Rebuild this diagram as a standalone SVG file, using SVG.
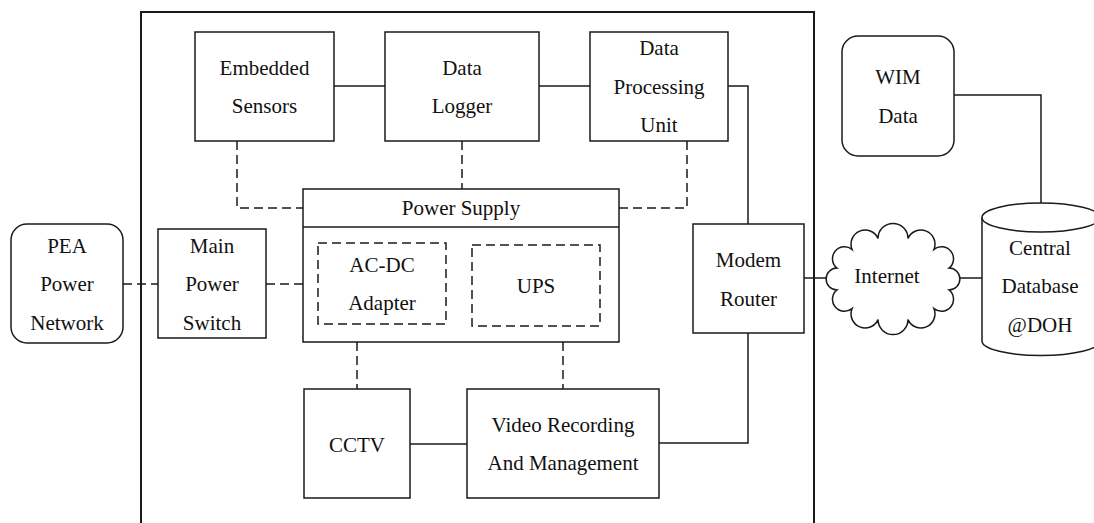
<svg xmlns="http://www.w3.org/2000/svg" width="1094" height="523" viewBox="0 0 1094 523">
<style>
.box{fill:#fff;stroke:#1a1a1a;stroke-width:1.5}
.dbox{fill:none;stroke:#1a1a1a;stroke-width:1.5;stroke-dasharray:9 5}
.ln{fill:none;stroke:#1a1a1a;stroke-width:1.5}
.dl{fill:none;stroke:#1a1a1a;stroke-width:1.5;stroke-dasharray:9 5}
text{font-family:"Liberation Serif","Times New Roman",serif;font-size:21px;fill:#111;text-anchor:middle}
</style>
<rect width="1094" height="523" fill="#fff"/>
<path id="enclosure" d="M141,523 V12 H814 V523" fill="none" stroke="#1a1a1a" stroke-width="2"/>
<g id="connectors">
<path class="dl" d="M237,141 V208 H303"/>
<path class="dl" d="M462,141 V189"/>
<path class="dl" d="M687,141 V208 H619"/>
<path class="dl" d="M123,284 H158"/>
<path class="dl" d="M266,284 H303"/>
<path class="dl" d="M357,342 V389"/>
<path class="dl" d="M563,342 V389"/>
<path class="ln" d="M334,86 H385"/>
<path class="ln" d="M539,86 H590"/>
<path class="ln" d="M728,86 H748 V224"/>
<path class="ln" d="M748,333 V443 H659"/>
<path class="ln" d="M410,444 H467"/>
<path class="ln" d="M804,278 H826"/>
<path class="ln" d="M960,278 H982"/>
<path class="ln" d="M954,95 H1041 V203"/>
</g>
<g id="embedded-sensors">
<rect class="box" x="195" y="32" width="139" height="109"/>
<text x="264.5" y="75">Embedded</text>
<text x="264.5" y="113">Sensors</text>
</g>
<g id="data-logger">
<rect class="box" x="385" y="32" width="154" height="109"/>
<text x="462" y="75">Data</text>
<text x="462" y="113">Logger</text>
</g>
<g id="data-processing-unit">
<rect class="box" x="590" y="32" width="138" height="109"/>
<text x="659" y="55">Data</text>
<text x="659" y="93.5">Processing</text>
<text x="659" y="132">Unit</text>
</g>
<g id="wim-data">
<rect class="box" x="842" y="36" width="112" height="120" rx="16"/>
<text x="898" y="84">WIM</text>
<text x="898" y="123">Data</text>
</g>
<g id="pea-power-network">
<rect class="box" x="11" y="224" width="112" height="119" rx="16"/>
<text x="67" y="253">PEA</text>
<text x="67" y="291">Power</text>
<text x="67" y="330">Network</text>
</g>
<g id="main-power-switch">
<rect class="box" x="158" y="229" width="108" height="109"/>
<text x="212" y="253">Main</text>
<text x="212" y="291">Power</text>
<text x="212" y="330">Switch</text>
</g>
<g id="power-supply">
<rect class="box" x="303" y="189" width="316" height="153"/>
<path class="ln" d="M303,227 H619"/>
<text x="461" y="215">Power Supply</text>
</g>
<g id="ac-dc-adapter">
<rect class="dbox" x="318" y="243" width="128" height="81"/>
<text x="382" y="272">AC-DC</text>
<text x="382" y="310">Adapter</text>
</g>
<g id="ups">
<rect class="dbox" x="472" y="245" width="128" height="81"/>
<text x="536" y="293">UPS</text>
</g>
<g id="modem-router">
<rect class="box" x="693" y="224" width="111" height="109"/>
<text x="748.5" y="267">Modem</text>
<text x="748.5" y="306">Router</text>
</g>
<g id="cctv">
<rect class="box" x="304" y="389" width="106" height="109"/>
<text x="357" y="452">CCTV</text>
</g>
<g id="video-recording">
<rect class="box" x="467" y="389" width="192" height="109"/>
<text x="563" y="432">Video Recording</text>
<text x="563" y="470">And Management</text>
</g>
<g id="internet">
<path class="box" d="M949,289.9 A12,12 0 0 1 934,308.7 A14.1,14.1 0 0 1 908,319.6 A15,15 0 0 1 878,319.6 A14.1,14.1 0 0 1 852,308.7 A12,12 0 0 1 837,289.9 A10.9,10.9 0 0 1 837,268.1 A12,12 0 0 1 852,249.3 A14.1,14.1 0 0 1 878,238.4 A15,15 0 0 1 908,238.4 A14.1,14.1 0 0 1 934,249.3 A12,12 0 0 1 949,268.1 A10.9,10.9 0 0 1 949,289.9 Z"/>
<text x="887" y="283">Internet</text>
</g>
<g id="central-database">
<path class="box" d="M982,217.5 V341 A59,14.5 0 0 0 1100,341 V217.5"/>
<ellipse class="box" cx="1041" cy="217.5" rx="59" ry="14.5"/>
<text x="1040" y="255">Central</text>
<text x="1040" y="293">Database</text>
<text x="1040" y="332">@DOH</text>
</g>
</svg>
